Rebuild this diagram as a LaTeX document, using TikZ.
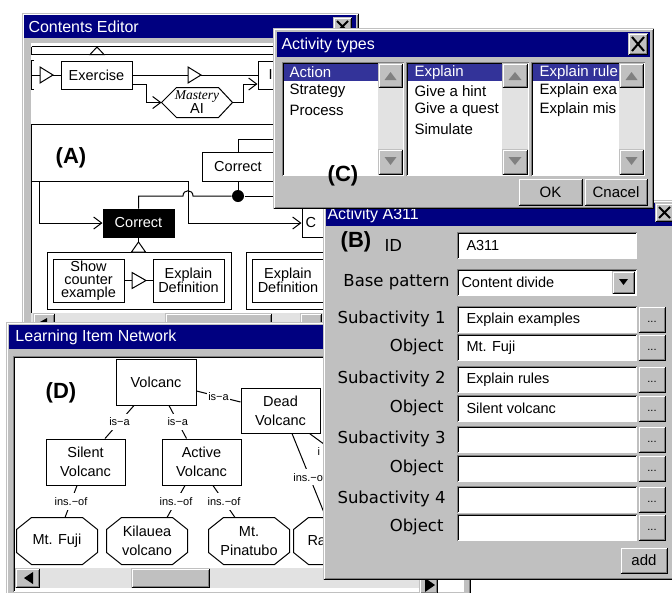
\documentclass[tikz,border=0pt]{standalone}
\usepackage{fontspec}
\setmainfont{Liberation Sans}
\newfontfamily\labfont{DejaVu Sans}
\newfontfamily\serfont{Liberation Serif}
\usetikzlibrary{arrows.meta}
\definecolor{navy}{RGB}{0,0,128}
\definecolor{wgray}{RGB}{192,192,192}
\definecolor{dgray}{RGB}{128,128,128}
\definecolor{selblue}{RGB}{51,51,153}
\definecolor{track}{RGB}{226,226,226}
\newcommand\wraise[4]{%
  \fill[wgray] (#1,#2) rectangle (#3,#4);
  \draw[white] (#1+1.5,#4-1.5) -- (#1+1.5,#2+1.5) -- (#3-1.5,#2+1.5);
  \draw[dgray] (#1+1.5,#4-1.5) -- (#3-1.5,#4-1.5) -- (#3-1.5,#2+1.5);
  \draw[black] (#1+0.5,#4-0.5) -- (#3-0.5,#4-0.5) -- (#3-0.5,#2+0.5);}
\newcommand\wsunk[4]{%
  \fill[white] (#1,#2) rectangle (#3,#4);
  \draw[dgray] (#1+0.5,#4-0.5) -- (#1+0.5,#2+0.5) -- (#3-0.5,#2+0.5);
  \draw[black] (#1+1.5,#4-1.5) -- (#1+1.5,#2+1.5) -- (#3-1.5,#2+1.5);}
\newcommand\xglyph[4]{\draw[line width=2pt] (#1,#2) -- (#3,#4) (#1,#4) -- (#3,#2);}
\newcommand\octa[1]{\draw ([xshift=15pt]#1.north west) -- ([xshift=-15pt]#1.north east) -- ([yshift=-12pt]#1.north east) -- ([yshift=12pt]#1.south east) -- ([xshift=-15pt]#1.south east) -- ([xshift=15pt]#1.south west) -- ([yshift=12pt]#1.south west) -- ([yshift=-12pt]#1.north west) -- cycle;}
\newcommand\vscroll[2]{%
  \fill[track] (#1,63) rectangle (#2,175);
  \wraise{#1}{63}{#2}{88}
  \wraise{#1}{149}{#2}{175}
  \fill[dgray] (#1+6.5,80) -- (#1/2+#2/2,72) -- (#2-6.5,80) -- cycle;
  \fill[dgray] (#1+6.5,157) -- (#2-6.5,157) -- (#1/2+#2/2,165) -- cycle;}
\begin{document}
\begin{tikzpicture}[x=1pt,y=-1pt,line width=1pt,
  every node/.style={inner sep=0pt},
  cfont/.style={font=\fontsize{14.5}{13}\selectfont},
  cbx/.style={draw,fill=white,align=center,cfont},
  lbx/.style={draw,fill=white,align=center,font=\fontsize{14.5}{19}\selectfont},
  oct/.style={align=center,font=\fontsize{14.5}{19}\selectfont,minimum width=80pt,minimum height=46pt},
  opa/.style={-{Straight Barb[length=8pt,width=12pt]}},
  lbl/.style={fill=white,font=\fontsize{11}{11}\selectfont,inner xsep=1pt,inner ysep=4pt},
  ttl/.style={text=white,anchor=west,font=\fontsize{16}{16}\selectfont},
  itm/.style={anchor=west,font=\fontsize{15}{15}\selectfont},
  fld/.style={anchor=west,font=\fontsize{14.5}{14.5}\selectfont},
  lab/.style={anchor=east,font=\labfont\fontsize{16.5}{16.5}\selectfont},
  big/.style={font=\bfseries\fontsize{22}{22}\selectfont},
  btxt/.style={font=\fontsize{15}{15}\selectfont},
  tri/.style={fill=white,draw}]
\useasboundingbox (0,0) rectangle (672,592);
\clip (0,0) rectangle (672,592);
\fill[white] (0,0) rectangle (672,592);

% ================= Contents Editor
\wraise{22}{13}{359}{345}
\fill[navy] (24,15) rectangle (356,38);
\node[ttl] (tce) at (28,27) {Contents Editor};
\wraise{333}{17}{352}{36}
\xglyph{337}{21}{348}{32}
\fill[white] (31,43) rectangle (345,313);
\begin{scope}
\clip (31,43) rectangle (345,313);
\draw (31.5,46.5) -- (345,46.5);
\draw (31.5,46.5) -- (31.5,54.5) -- (345,54.5);
\draw[tri] (90,54.5) -- (97,47) -- (104,54.5) -- cycle;
\draw (34,60.5) -- (31.5,60.5) -- (31.5,89.5) -- (34,89.5);
\node[cbx,minimum width=71pt,minimum height=28pt] (ex) at (96.5,75) {Exercise};
\node[cbx,minimum width=72pt,minimum height=28pt] (ibox) at (294,75) {};
\node[cfont,anchor=west] (itxt) at (268,75) {I};
\node[minimum width=70pt,minimum height=29pt,align=center,font=\fontsize{14.5}{12}\selectfont] (mast) at (197,102.5) {{\serfont\itshape\fontsize{13.5}{12}\selectfont Mastery}\\AI};
\draw (mast.west) -- ([xshift=15pt]mast.north west) -- ([xshift=-14pt]mast.north east) -- (mast.east) -- ([xshift=-14pt]mast.south east) -- ([xshift=15pt]mast.south west) -- cycle;
\draw (31.5,75) -- (ex.west);
\draw[tri] (40,67) -- (53,75) -- (40,83) -- cycle;
\draw (ex.east) -- (ibox.west);
\draw[tri] (188,67) -- (201,75) -- (188,83) -- cycle;
\draw[opa] ([yshift=-9pt]ex.east) -| (146,102.5) -- (mast.west);
\draw[opa] (mast.east) -- (243,102.5) |- ([yshift=-9pt]ibox.west);
% big box
\draw (345,124.5) -- (31.5,124.5) -- (31.5,313);
\node[cbx,minimum width=72pt,minimum height=29pt] (corr1) at (238,166.5) {Correct};
\node[draw,fill=black,text=white,cfont,minimum width=71pt,minimum height=28pt] (corrB) at (138.5,223) {Correct};
\node[cbx,minimum width=72pt,minimum height=29pt] (cbox) at (338,223) {};
\node[cfont,anchor=west] (ctxt) at (305,223) {C};
\node[circle,fill=black,minimum size=12pt] (dot) at (238,196) {};
\draw[opa] (31.5,181.5) -| (188,223) -- (cbox.west);
\draw[opa] (39.5,181.5) |- (corrB.west);
\draw (corrB.north) |- (183,196) .. controls (183,189) and (193,189) .. (193,196) -- (dot.west);
\draw (dot.east) -- (345,196);
\draw (corr1.south) -- (dot);
\draw (corr1.north) |- (345,139.5);
% groups
\node[draw,minimum width=184pt,minimum height=57pt] (grp1) at (139,280.5) {};
\node[cbx,minimum width=71pt,minimum height=43pt] (show) at (88.5,280.5) {Show\\counter\\example};
\node[cbx,minimum width=71pt,minimum height=43pt] (expl1) at (188.5,280.5) {Explain\\Definition};
\draw (show.east) -- (expl1.west);
\draw[tri] (132,272.5) -- (146,280.5) -- (132,288.5) -- cycle;
\draw (corrB.south) -- (138.5,242);
\draw[tri] (131.5,252) -- (138.5,242) -- (145.5,252) -- cycle;
\node[draw,minimum width=174pt,minimum height=57pt] (grp2) at (333,280.5) {};
\node[cbx,minimum width=72pt,minimum height=43pt] (expl2) at (288,280.5) {Explain\\Definition};
\node[big] (al) at (71,158) {(A)};
\end{scope}
\fill[track] (31,313) rectangle (345,332);
\wraise{33}{313}{55}{332}
\fill (40,322) -- (47,318) -- (47,326) -- cycle;
\wraise{165}{313}{272}{332}
\wraise{300}{313}{322}{332}

% ================= Learning Item Network
\wraise{6}{322}{471}{600}
\fill[navy] (9,325) rectangle (468,349);
\node[ttl] (tlin) at (15,337) {Learning Item Network};
\wsunk{13}{356}{464}{592}
\node[big] (dl) at (61,393) {(D)};
\node[lbx,minimum width=80pt,minimum height=46pt] (vol) at (156,382) {Volcanc};
\node[lbx,minimum width=79pt,minimum height=45pt] (dead) at (280.5,410.5) {Dead\\Volcanc};
\node[lbx,minimum width=79pt,minimum height=46pt] (silent) at (85.5,462) {Silent\\Volcanc};
\node[lbx,minimum width=79pt,minimum height=46pt] (active) at (201.5,462) {Active\\Volcanc};
\node[oct] (fuji) at (57,541) {Mt. Fuji};
\node[oct] (kil) at (147,541) {Kilauea\\volcano};
\node[oct] (pin) at (249,541) {Mt.\\Pinatubo};
\node[oct] (ra) at (334,541) {};
\node[anchor=west,font=\fontsize{14.5}{19}\selectfont] (ratxt) at (307,541) {Ra};
\octa{fuji}
\octa{kil}
\octa{pin}
\octa{ra}
\draw ([xshift=-22pt]vol.south) -- node[lbl] (e1) {is−a} ([xshift=19.5pt]silent.north);
\draw ([xshift=13pt]vol.south) -- node[lbl] (e2) {is−a} ([xshift=-15pt]active.north);
\draw ([yshift=-9pt]vol.east) -- node[lbl] (e3) {is−a} ([yshift=8.5pt]dead.west);
\draw ([xshift=-8.5pt]silent.south) -- node[lbl] (e4) {ins.−of} ([xshift=8pt]fuji.north);
\draw ([xshift=-16.5pt]active.south) -- node[lbl] (e5) {ins.−of} ([xshift=20pt]kil.north);
\draw ([xshift=11.5pt]active.south) -- node[lbl] (e6) {ins.−of} ([xshift=-14pt]pin.north);
\draw ([xshift=11.5pt]dead.south) -- node[lbl,pos=0.52] (e7) {ins.−of} ([xshift=-8pt]ra.north);
\coordinate (hid) at (362,472);
\draw ([xshift=29pt]dead.south) -- (hid);
\node[lbl,anchor=west] (e8) at (316,452) {i};
\fill[track] (15,568) rectangle (438,588);
\wraise{15}{568}{40}{588}
\fill (24,578) -- (33,572) -- (33,584) -- cycle;
\wraise{131}{568}{210}{588}
\wraise{419}{568}{438}{594}
\fill (425,578) -- (435,585) -- (425,592) -- cycle;

% ================= Activity A311
\wraise{323}{200}{690}{580}
\fill[navy] (326,203) rectangle (672,226);
\node[ttl] (ta) at (327,215) {Activity A311};
\wraise{655}{203}{676}{222}
\xglyph{659}{207}{670}{218}
\node[big] (bl) at (356,242) {(B)};
\node[lab,anchor=west] (idl) at (384,245) {ID};
\wsunk{457}{232}{637}{259}
\node[fld] (idv) at (466,245.5) {A311};
\node[lab] (bpl) at (450,282) {Base pattern};
\wsunk{457}{269}{637}{296}
\node[fld] (bpv) at (461,282.5) {Content divide};
\wraise{612}{271}{635}{294}
\fill (619,279) -- (628,279) -- (623.5,285) -- cycle;
\foreach \y/\t/\v/\lx in {306/Subactivity 1/Explain examples/446, 334/Object/Mt. Fuji/444, 366/Subactivity 2/Explain rules/446, 395/Object/Silent volcanc/444, 426/Subactivity 3//446, 455/Object//444, 486/Subactivity 4//446, 514/Object//444}{
  \node[lab] (lab\y) at (\lx,\y+13) {\t};
  \wsunk{457}{\y}{637}{\y+27}
  \node[fld] (val\y) at (466,\y+13.5) {\v};
  \wraise{638}{\y}{666}{\y+27}
  \node[font=\fontsize{11}{11}\selectfont] (dots\y) at (652,\y+16) {...};
}
\wraise{620}{547}{668}{574}
\node[btxt] (addb) at (644,560.5) {add};

% ================= Activity types
\wraise{273}{28}{654}{209}
\fill[navy] (277,32) rectangle (650,57);
\node[ttl] (tc) at (281,45) {Activity types};
\wraise{628}{33}{648}{55}
\xglyph{632}{37}{644}{51}
\wsunk{282}{62}{404}{176}
\fill[selblue] (284,64) rectangle (378,81);
\node[itm,text=white] (l1a) at (289,72.5) {Action};
\node[itm] (l1b) at (289,91) {Strategy};
\node[itm] (l1c) at (289,110) {Process};
\vscroll{378}{403}
\wsunk{406}{62}{529}{176}
\fill[selblue] (408,64) rectangle (502,81);
\node[itm,text=white] (l2a) at (414,72.5) {Explain};
\node[itm] (l2b) at (414,91) {Give a hint};
\node[itm] (l2c) at (414,110) {Give a quest};
\node[itm] (l2d) at (414,129) {Simulate};
\vscroll{502}{528}
\wsunk{531}{62}{645}{176}
\fill[selblue] (533,64) rectangle (619,81);
\node[itm,text=white] (l3a) at (539,72.5) {Explain rule};
\node[itm] (l3b) at (539,91) {Explain exa};
\node[itm] (l3c) at (539,110) {Explain mis};
\vscroll{619}{644}
\node[big] (cl) at (343,176) {(C)};
\wraise{518}{178}{583}{206}
\node[btxt] (okb) at (550.5,192) {OK};
\wraise{584}{178}{648}{206}
\node[btxt] (cnb) at (616,192) {Cnacel};
\end{tikzpicture}
\end{document}
